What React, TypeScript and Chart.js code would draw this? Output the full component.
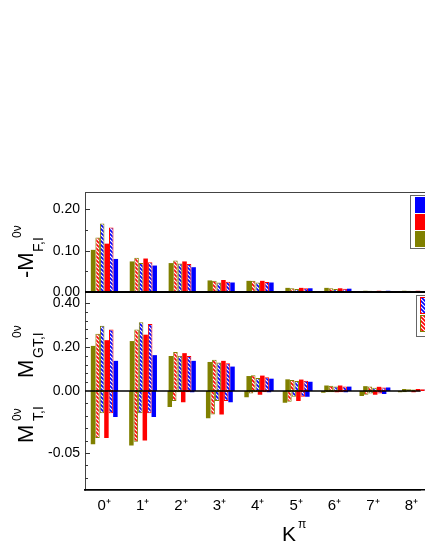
import React, { useEffect, useRef } from 'react';
import { Chart, registerables } from 'chart.js';

Chart.register(...registerables);

// ---------- data ----------
const K_LABELS = ['0⁺', '1⁺', '2⁺', '3⁺', '4⁺', '5⁺', '6⁺', '7⁺', '8⁺'];

// -M_F (top panel)
const F_S1 = [0.102, 0.074, 0.070, 0.028, 0.027, 0.010, 0.010, 0.003, 0.003];
const F_S2 = [0.132, 0.083, 0.076, 0.027, 0.027, 0.009, 0.009, 0.003, 0.003];
const F_S3 = [0.166, 0.070, 0.069, 0.023, 0.023, 0.007, 0.007, 0.002, 0.002];
const F_S4 = [0.117, 0.081, 0.074, 0.029, 0.027, 0.010, 0.009, 0.003, 0.003];
const F_S5 = [0.156, 0.072, 0.068, 0.025, 0.024, 0.009, 0.008, 0.002, 0.002];
const F_S6 = [0.080, 0.064, 0.060, 0.023, 0.023, 0.009, 0.008, 0.003, 0.002];

// M_GT (middle panel)
const GT_S1 = [0.205, 0.227, 0.159, 0.132, 0.068, 0.053, 0.025, 0.022, 0.009];
const GT_S2 = [0.260, 0.279, 0.177, 0.142, 0.072, 0.050, 0.024, 0.020, 0.008];
const GT_S3 = [0.297, 0.312, 0.160, 0.129, 0.059, 0.045, 0.020, 0.015, 0.007];
const GT_S4 = [0.231, 0.256, 0.172, 0.137, 0.070, 0.052, 0.025, 0.019, 0.009];
const GT_S5 = [0.279, 0.305, 0.159, 0.126, 0.063, 0.047, 0.021, 0.016, 0.008];
const GT_S6 = [0.137, 0.163, 0.137, 0.111, 0.056, 0.042, 0.020, 0.016, 0.008];

// M_T (bottom panel)
const T_S1 = [-0.043, -0.044, -0.013, -0.022, -0.005, -0.0095, -0.0015, -0.004, -0.001];
const T_S2 = [-0.038, -0.041, -0.008, -0.019, -0.002, -0.0087, -0.001, -0.003, -0.001];
const T_S3 = [-0.018, -0.018, -0.001, -0.008, -0.001, -0.0046, -0.001, -0.002, -0.0005];
const T_S4 = [-0.038, -0.040, -0.009, -0.019, -0.003, -0.008, -0.001, -0.003, -0.001];
const T_S5 = [-0.018, -0.018, -0.001, -0.008, -0.001, -0.0046, -0.001, -0.002, -0.0005];
const T_S6 = [-0.021, -0.021, -0.001, -0.009, -0.001, -0.0046, -0.001, -0.0024, -0.0005];

// tick values
const F_MAJOR = [0, 0.1, 0.2];
const F_MINOR = [0.05, 0.15];
const GT_MAJOR = [0, 0.2, 0.4];
const GT_MINOR = [0.04, 0.08, 0.12, 0.16, 0.24, 0.28, 0.32, 0.36];
const T_MAJOR = [-0.05];
const T_MINOR = [-0.01, -0.02, -0.03, -0.04, -0.06, -0.07];

// ---------- style ----------
const OLIVE = '#808000';
const RED = '#ff0000';
const BLUE = '#0000ff';
const FONT = '"Liberation Sans", Arial, sans-serif';

type Style = { fill?: string; hatch?: string; border?: string };
const STYLES: Style[] = [
  { fill: OLIVE },
  { hatch: RED, border: OLIVE },
  { hatch: BLUE, border: OLIVE },
  { fill: RED },
  { hatch: BLUE, border: RED },
  { fill: BLUE },
];

function makePattern(color: string): CanvasPattern {
  const c = document.createElement('canvas');
  c.width = 4;
  c.height = 4;
  const g = c.getContext('2d')!;
  g.fillStyle = '#ffffff';
  g.fillRect(0, 0, 4, 4);
  g.strokeStyle = color;
  g.lineWidth = 1.6;
  g.beginPath();
  g.moveTo(-1, -1); g.lineTo(5, 5);
  g.moveTo(-1, 3); g.lineTo(1, 5);
  g.moveTo(3, -1); g.lineTo(5, 1);
  g.stroke();
  return g.createPattern(c, 'repeat')!;
}

function buildSets(series: number[][], axis: string, pats: Record<string, CanvasPattern>) {
  return series.map((vals, i) => {
    const st = STYLES[i];
    return {
      label: 'S' + (i + 1),
      data: vals.map((v, k) => ({ x: k, y: v })),
      yAxisID: axis,
      stack: 's' + i,
      backgroundColor: st.hatch ? pats[st.hatch] : st.fill,
      borderColor: st.border || st.fill,
      borderWidth: st.border ? 1 : 0,
      borderSkipped: st.border ? false : 'start',
      categoryPercentage: 0.7,
      barPercentage: 1,
    };
  });
}

const xScale = (showLabels: boolean) => ({
  type: 'linear',
  min: -0.5,
  max: 8.24,
  offset: false,
  afterBuildTicks: (s: any) => {
    s.ticks = K_LABELS.map((_, i) => ({ value: i }));
  },
  afterFit: (s: any) => {
    s.height = 60;
  },
  ticks: {
    display: showLabels,
    autoSkip: false,
    maxRotation: 0,
    padding: 7,
    color: '#000',
    font: { family: FONT, size: 15 },
    callback: (v: any) => K_LABELS[v] ?? '',
  },
  grid: { display: false, drawTicks: false },
  border: { display: true, color: '#000', width: 1.5 },
});

const yBase = (ticks: number[], min: number, max: number, weight: number, showBorder: boolean) => ({
  type: 'linear',
  position: 'left',
  stack: 'left',
  stackWeight: weight,
  stacked: false,
  min,
  max,
  afterBuildTicks: (s: any) => {
    s.ticks = ticks.map((v) => ({ value: v }));
  },
  afterFit: (s: any) => {
    s.width = 85;
  },
  ticks: {
    padding: 5,
    color: '#000',
    font: { family: FONT, size: 14 },
    callback: (v: any) => Number(v).toFixed(2),
  },
  grid: { display: false, drawTicks: false },
  border: { display: showBorder, color: '#444', width: 1 },
});

function rotText(ctx: CanvasRenderingContext2D, text: string, x: number, y: number, size: number) {
  ctx.save();
  ctx.translate(x, y);
  ctx.rotate(-Math.PI / 2);
  ctx.font = `${size}px ${FONT}`;
  ctx.textAlign = 'left';
  ctx.textBaseline = 'alphabetic';
  ctx.fillStyle = '#000';
  ctx.fillText(text, 0, 0);
  ctx.restore();
}

function drawTicks(ctx: CanvasRenderingContext2D, scale: any, x: number, majors: number[], minors: number[]) {
  ctx.save();
  ctx.strokeStyle = '#333';
  ctx.lineWidth = 1;
  ctx.beginPath();
  for (const v of majors) {
    const y = Math.round(scale.getPixelForValue(v)) + 0.5;
    ctx.moveTo(x, y);
    ctx.lineTo(x + 5, y);
  }
  for (const v of minors) {
    const y = Math.round(scale.getPixelForValue(v)) + 0.5;
    ctx.moveTo(x, y);
    ctx.lineTo(x + 3, y);
  }
  ctx.stroke();
  ctx.restore();
}

function swatch(ctx: CanvasRenderingContext2D, x: number, y: number, w: number, h: number, fill: any, border?: string) {
  ctx.fillStyle = fill;
  ctx.fillRect(x, y, w, h);
  if (border) {
    ctx.strokeStyle = border;
    ctx.lineWidth = 1;
    ctx.strokeRect(x + 0.5, y + 0.5, w - 1, h - 1);
  }
}

export default function App() {
  const refA = useRef<HTMLCanvasElement>(null);
  const refB = useRef<HTMLCanvasElement>(null);

  useEffect(() => {
    const pats: Record<string, CanvasPattern> = { [RED]: makePattern(RED), [BLUE]: makePattern(BLUE) };

    const deco = {
      id: 'decoA',
      afterDatasetsDraw(chart: any) {
        const ctx = chart.ctx as CanvasRenderingContext2D;
        const a = chart.chartArea;
        const yF = chart.scales.yF;
        const yGT = chart.scales.yGT;
        ctx.save();
        // top frame line
        ctx.strokeStyle = '#444';
        ctx.lineWidth = 1;
        ctx.beginPath();
        ctx.moveTo(a.left, a.top + 0.5);
        ctx.lineTo(a.right, a.top + 0.5);
        ctx.stroke();
        // separator between panels
        ctx.strokeStyle = '#000';
        ctx.lineWidth = 2;
        ctx.beginPath();
        const ys = yF.getPixelForValue(0);
        ctx.moveTo(a.left, ys);
        ctx.lineTo(a.right, ys);
        ctx.stroke();
        drawTicks(ctx, yF, a.left, F_MAJOR.slice(1), F_MINOR);
        drawTicks(ctx, yGT, a.left, GT_MAJOR.slice(1), GT_MINOR);

        // axis titles
        rotText(ctx, '-M', 33, 278, 22);
        rotText(ctx, 'F,I', 43, 252, 14);
        rotText(ctx, '0ν', 21, 238, 12);

        rotText(ctx, 'M', 33, 378, 22);
        rotText(ctx, 'GT,I', 43, 358, 14);
        rotText(ctx, '0ν', 21, 338, 12);

        // legends (cut at the right edge)
        ctx.fillStyle = '#fff';
        ctx.fillRect(411, 196, 40, 52);
        ctx.strokeStyle = '#666';
        ctx.lineWidth = 1;
        ctx.strokeRect(410.5, 195.5, 40, 53);
        swatch(ctx, 415, 197, 20, 16, BLUE);
        swatch(ctx, 415, 214, 20, 16, RED);
        swatch(ctx, 415, 231, 20, 16, OLIVE);

        ctx.fillStyle = '#fff';
        ctx.fillRect(417, 296, 40, 40);
        ctx.strokeStyle = '#666';
        ctx.strokeRect(416.5, 295.5, 40, 41);
        swatch(ctx, 420, 297, 20, 17, pats[BLUE], RED);
        swatch(ctx, 420, 315, 20, 17, pats[RED], OLIVE);
        ctx.restore();
      },
    };

    const decoB = {
      id: 'decoB',
      afterDatasetsDraw(chart: any) {
        const ctx = chart.ctx as CanvasRenderingContext2D;
        const a = chart.chartArea;
        const yT = chart.scales.yT;
        ctx.save();
        ctx.strokeStyle = '#000';
        ctx.lineWidth = 1.5;
        ctx.beginPath();
        const y0 = yT.getPixelForValue(0);
        ctx.moveTo(a.left, y0);
        ctx.lineTo(a.right, y0);
        ctx.stroke();
        drawTicks(ctx, yT, a.left, T_MAJOR, T_MINOR);

        rotText(ctx, 'M', 33, 443, 22);
        rotText(ctx, 'T,I', 43, 421, 14);
        rotText(ctx, '0ν', 21, 421, 12);

        ctx.fillStyle = '#000';
        ctx.textAlign = 'left';
        ctx.textBaseline = 'alphabetic';
        ctx.font = `21px ${FONT}`;
        ctx.fillText('K', 282, 541);
        ctx.font = `12px ${FONT}`;
        ctx.fillText('π', 298, 528);
        ctx.restore();
      },
    };

    const common = {
      animation: false,
      responsive: false,
      maintainAspectRatio: false,
      devicePixelRatio: 1,
      layout: { padding: { top: 192, left: 0, right: 0, bottom: 0 } },
      plugins: { legend: { display: false }, tooltip: { enabled: false }, title: { display: false } },
    };

    const chartA = new Chart(refA.current!, {
      type: 'bar',
      data: {
        datasets: [
          ...buildSets([F_S1, F_S2, F_S3, F_S4, F_S5, F_S6], 'yF', pats),
          ...buildSets([GT_S1, GT_S2, GT_S3, GT_S4, GT_S5, GT_S6], 'yGT', pats),
        ] as any,
      },
      options: {
        ...common,
        scales: {
          x: xScale(false),
          yGT: yBase(GT_MAJOR, -0.45, 0.45, 198, true),
          yF: yBase(F_MAJOR, 0, 0.242, 100, true),
        },
      } as any,
      plugins: [deco],
    });

    const dummy: any = yBase([], 0, 1, 100, false);
    dummy.ticks = { display: false };
    const chartB = new Chart(refB.current!, {
      type: 'bar',
      data: {
        datasets: buildSets([T_S1, T_S2, T_S3, T_S4, T_S5, T_S6], 'yT', pats) as any,
      },
      options: {
        ...common,
        scales: {
          x: xScale(true),
          yT: yBase(T_MAJOR, -0.08, 0.08, 198, false),
          yTop: dummy,
        },
      } as any,
      plugins: [decoB],
    });

    return () => {
      chartA.destroy();
      chartB.destroy();
    };
  }, []);

  const cv: React.CSSProperties = { position: 'absolute', left: 0, top: 0, display: 'block' };
  return (
    <div style={{ position: 'absolute', left: 0, top: 0, width: 425, height: 550, overflow: 'hidden', background: '#fff' }}>
      <canvas ref={refA} width={425} height={550} style={cv} />
      <canvas ref={refB} width={425} height={550} style={cv} />
    </div>
  );
}
